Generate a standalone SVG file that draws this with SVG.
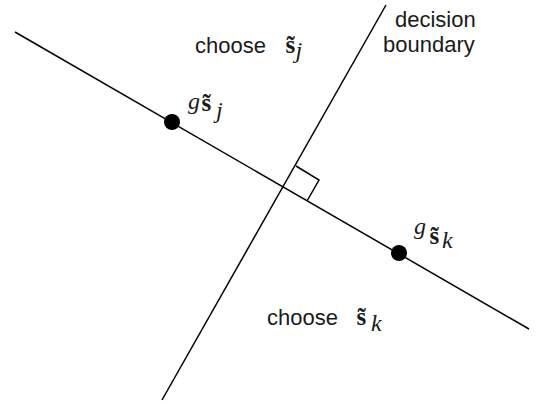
<svg xmlns="http://www.w3.org/2000/svg" width="537" height="404" viewBox="0 0 537 404">
<style>
.ln{stroke:#000;stroke-width:1.5;fill:none}
.lbl{font-family:"Liberation Sans",Arial,sans-serif;font-size:22px;fill:#1a1a1a}
.m{font-family:"Liberation Serif","Times New Roman",serif;font-size:25px;fill:#1a1a1a}
.s{font-weight:bold}
.it{font-style:italic;font-size:24px}
</style>
<rect width="537" height="404" fill="#fff"/>
<g id="connectors">
<line class="ln" x1="15" y1="32" x2="529" y2="329"/>
<line class="ln" x1="386" y1="5" x2="162" y2="400"/>
<polyline class="ln" points="296,166 319,180 307,201"/>
</g>
<g id="point-j">
<circle cx="172" cy="122" r="8" fill="#000"/>
<text class="m"><tspan class="it" x="188" y="109">g</tspan><tspan class="s" x="201.5" y="111">s&#x303;</tspan><tspan class="it" x="216" y="118">j</tspan></text>
</g>
<g id="point-k">
<circle cx="399" cy="253" r="8" fill="#000"/>
<text class="m"><tspan class="it" x="414" y="234">g</tspan><tspan class="s" x="429.5" y="244">s&#x303;</tspan><tspan class="it" x="442" y="248">k</tspan></text>
</g>
<g id="region-j">
<text class="lbl" x="195" y="53">choose</text>
<text class="m"><tspan class="s" x="285.5" y="53">s&#x303;</tspan><tspan class="it" x="295.5" y="58">j</tspan></text>
</g>
<g id="region-k">
<text class="lbl" x="267" y="325">choose</text>
<text class="m"><tspan class="s" x="356.5" y="325">s&#x303;</tspan><tspan class="it" x="371" y="331">k</tspan></text>
</g>
<g id="boundary-label">
<text class="lbl" x="395" y="27">decision</text>
<text class="lbl" x="383" y="52">boundary</text>
</g>
</svg>
